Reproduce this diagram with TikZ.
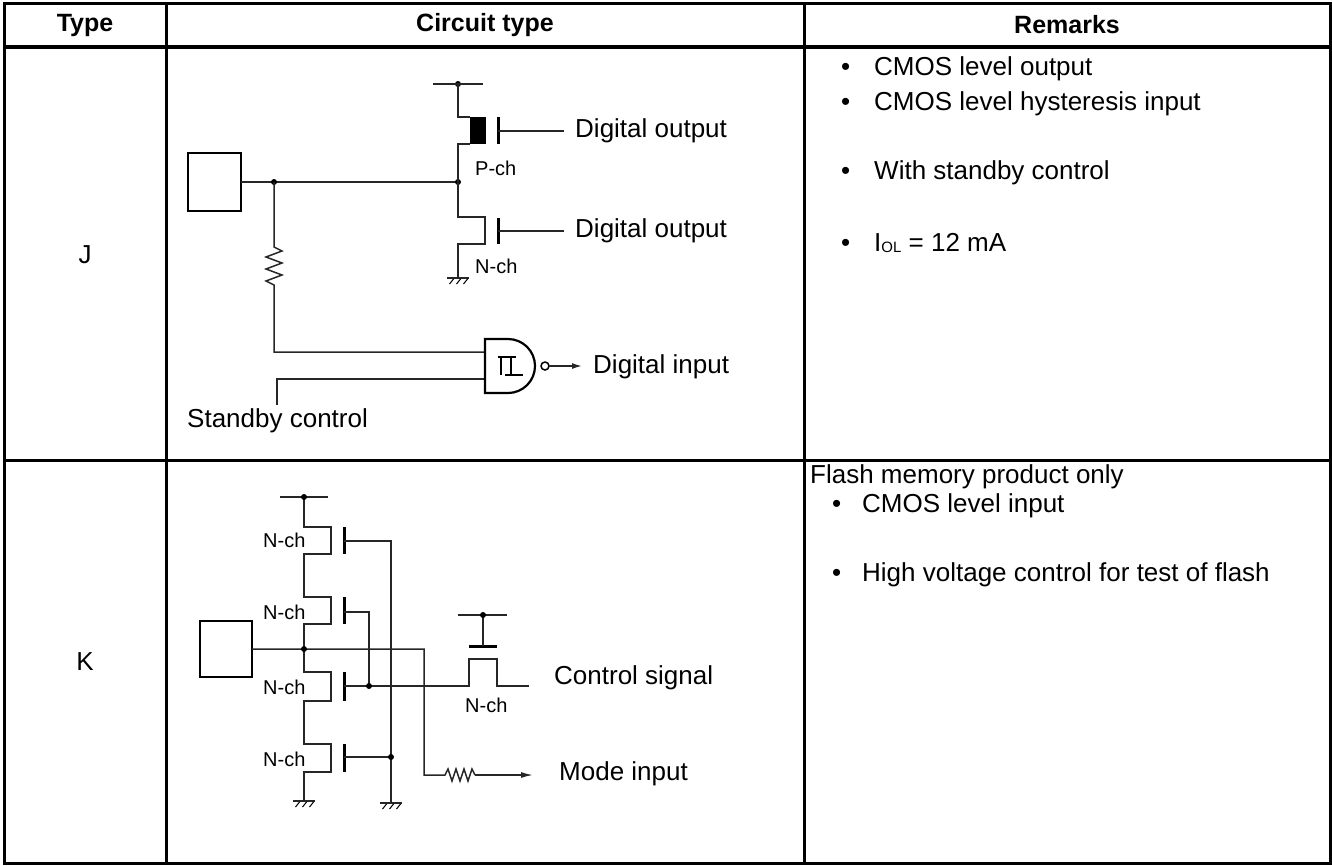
\documentclass[tikz,border=0pt]{standalone}
\usepackage{fontspec}
\setmainfont{Liberation Sans}
\usetikzlibrary{arrows.meta}
\begin{document}
\begin{tikzpicture}[x=1pt,y=-1pt,
  wire/.style={line width=1.5pt, draw=black!85},
  bar/.style={line width=3pt},
  padbox/.style={line width=2.6pt},
  border/.style={line width=3pt},
  dotc/.style={fill=black},
  txt/.style={anchor=west, inner sep=0pt, font=\fontsize{26}{31}\selectfont},
  small/.style={anchor=west, inner sep=0pt, font=\fontsize{20}{24}\selectfont},
  head/.style={inner sep=0pt, font=\fontsize{25}{30}\selectfont\bfseries},
  gnd/.pic={\draw[wire] (-11,0)--(11,0);
            \foreach \i in {-7,0,7} \draw[line width=1pt] (\i+2.5,1)--(\i-1.5,6);}
]
\useasboundingbox (0,0) rectangle (1332,865);
% ---------- table ----------
\draw[border] (4,3) rectangle (1330,863);
\draw[line width=4pt] (4,47) -- (1330,47);
\draw[border] (4,460) -- (1330,460);
\draw[border] (166,3) -- (166,863);
\draw[border] (804,3) -- (804,863);
\node[head] (hType) at (85,25) {Type};
\node[head] (hCirc) at (485,25) {Circuit type};
\node[head] (hRem) at (1067,25) {Remarks};
\node[txt, anchor=center] (rowJ) at (85,255) {J};
\node[txt, anchor=center] (rowK) at (85,662) {K};

% ---------- J circuit ----------
\draw[padbox] (188,153) rectangle (241,211);
\draw[wire] (241,182) -- (458,182);
\fill[dotc] (274,182) circle[radius=3] (458,182) circle[radius=3] (458,84) circle[radius=3];
\draw[wire] (433,84) -- (483,84);
\draw[wire] (458,84) -- (458,117) -- (470,117);
\fill (470,117) rectangle (486,144);
\draw[wire] (470,144) -- (458,144) -- (458,217) -- (485,217) -- (485,244) -- (458,244) -- (458,278);
\pic at (458,278) {gnd};
\draw[bar] (498,117) -- (498,144);
\draw[wire] (498,131) -- (564,131);
\draw[bar] (498,218) -- (498,244);
\draw[wire] (498,231) -- (564,231);
\node[txt] (jdo1) at (575,131) {Digital output};
\node[txt] (jdo2) at (575,231) {Digital output};
\node[small] (jp) at (475,168) {P-ch};
\node[small] (jn) at (475,266) {N-ch};
% resistor
\draw[wire] (274,182) -- (274,247) -- (282,251) -- (266,257) -- (282,263) -- (266,269) -- (282,275) -- (266,281) -- (274,285) -- (274,352) -- (485,352);
% standby
\draw[wire] (277,405) -- (277,379) -- (485,379);
\node[txt] (jsb) at (187,421) {Standby control};
% gate
\draw[line width=2.2pt] (485,339) -- (508,339) arc[start angle=-90,end angle=90,radius=27] -- (485,393) -- cycle;
\draw[line width=1.8pt] (498,357) -- (516,357) (501,357) -- (501,375) (511,357) -- (511,375) (505,375) -- (523,375);
\draw[line width=1.5pt] (545,366) circle[radius=4];
\draw[wire, -{Latex[length=10pt,width=6pt]}] (549,366) -- (582,366);
\node[txt] (jdi) at (593,367) {Digital input};

% ---------- K circuit ----------
\draw[padbox] (200,621) rectangle (252,677);
\draw[wire] (252,649) -- (424,649) -- (424,775) -- (445,775) -- (448,769) -- (452,781) -- (456,769) -- (460,781) -- (464,769) -- (468,781) -- (472,769) -- (475,775);
\draw[wire, -{Latex[length=12pt,width=6pt]}] (475,775) -- (533,775);
\node[txt] (kmi) at (559,774) {Mode input};
\draw[wire] (280,497) -- (328,497);
\draw[wire] (304,497) -- (304,527) -- (331,527) -- (331,554) -- (304,554) -- (304,597) -- (331,597) -- (331,624) -- (304,624) -- (304,672) -- (331,672) -- (331,701) -- (304,701) -- (304,744) -- (331,744) -- (331,772) -- (304,772) -- (304,801);
\pic at (304,801) {gnd};
\fill[dotc] (304,497) circle[radius=3] (304,649) circle[radius=3];
\draw[bar] (344,527) -- (344,554);
\draw[bar] (344,597) -- (344,624);
\draw[bar] (344,672) -- (344,701);
\draw[bar] (344,744) -- (344,772);
\draw[wire] (344,541) -- (391,541) -- (391,803);
\pic at (391,803) {gnd};
\draw[wire] (344,612) -- (369,612) -- (369,686);
\draw[wire] (344,686) -- (469,686) -- (469,659) -- (497,659) -- (497,686) -- (529,686);
\draw[wire] (344,757) -- (391,757);
\fill[dotc] (369,686) circle[radius=3] (391,757) circle[radius=3];
\draw[bar] (469,646) -- (497,646);
\draw[wire] (483,646) -- (483,615);
\draw[wire] (458,615) -- (507,615);
\fill[dotc] (483,615) circle[radius=3];
\node[txt] (kcs) at (554,678) {Control signal};
\node[small] (kn0) at (465,705) {N-ch};
\node[small] (kn1) at (263,540) {N-ch};
\node[small] (kn2) at (263,612) {N-ch};
\node[small] (kn3) at (263,687) {N-ch};
\node[small] (kn4) at (263,759) {N-ch};

% ---------- remarks ----------
\node[txt] (r1) at (841,69) {\makebox[33pt][l]{•}CMOS level output};
\node[txt] (r2) at (841,104) {\makebox[33pt][l]{•}CMOS level hysteresis input};
\node[txt] (r3) at (841,173) {\makebox[33pt][l]{•}With standby control};
\node[txt] (r4) at (841,243) {\makebox[33pt][l]{•}I{\fontsize{15}{15}\selectfont\raisebox{-1pt}{OL}} = 12 mA};
\node[txt] (r5) at (810,477) {Flash memory product only};
\node[txt] (r6) at (832,506) {\makebox[30pt][l]{•}CMOS level input};
\node[txt] (r7) at (832,575) {\makebox[30pt][l]{•}High voltage control for test of flash};
\end{tikzpicture}
\end{document}
